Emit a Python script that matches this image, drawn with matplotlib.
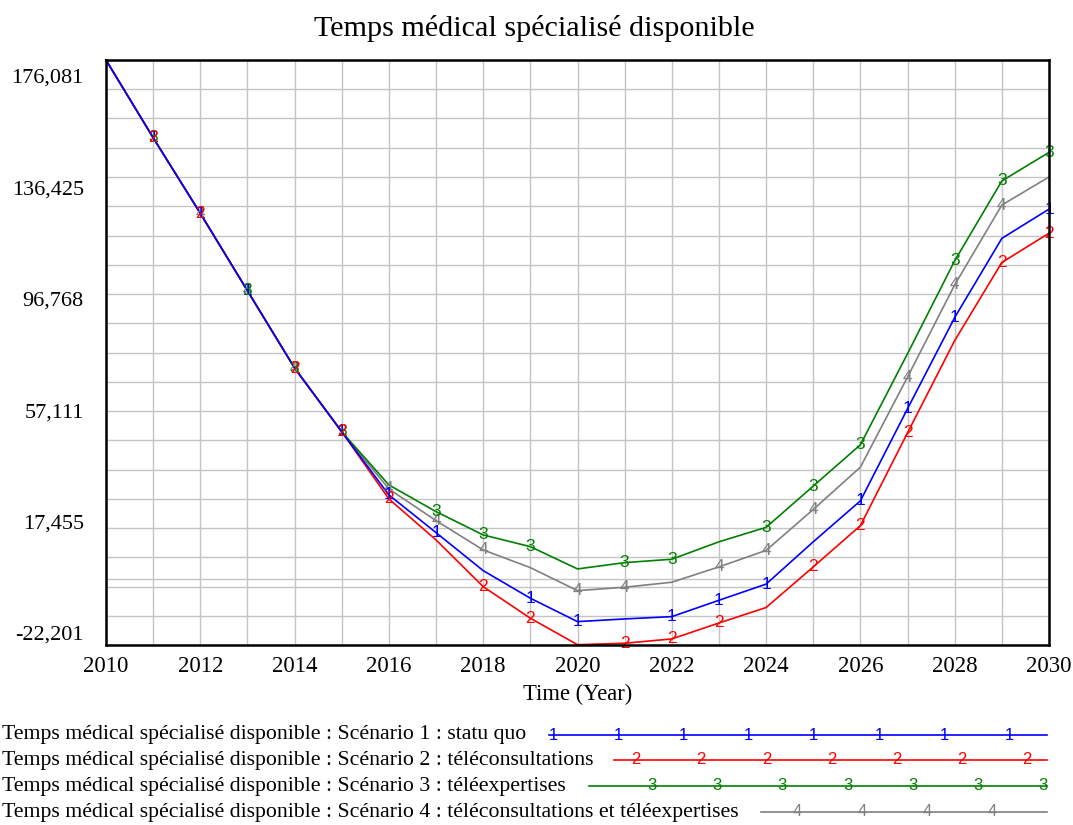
import matplotlib
matplotlib.use("Agg")
import matplotlib.pyplot as plt
from matplotlib.lines import Line2D
from matplotlib.transforms import ScaledTranslation
import numpy as np

# ---------------- data ----------------
years = list(range(2010, 2031))
s1_statu_quo = [176081, 149741, 124111, 97871, 71669, 50075, 28660, 15883, 3005, -6348,
                -14279, -13364, -12586, -7043, -1563, 12779, 26654, 57903, 88802, 115620, 125531]
s2_teleconsult = [176081, 149741, 124111, 97871, 71669, 50075, 27304, 13409, -2417, -13126,
                  -22100, -21605, -20143, -14739, -9492, 4267, 18259, 49741, 80990, 107458, 117369]
s3_teleexpert = [176081, 149741, 124111, 97871, 71669, 50075, 32048, 23000, 15103, 11138,
                 3581, 5716, 6868, 12779, 17676, 31668, 45660, 76559, 108041, 135092, 144770]
s4_both = [176081, 149741, 124111, 97871, 71669, 50075, 30693, 19950, 10020, 4021,
           -3773, -2622, -926, 4267, 9864, 23739, 38081, 68630, 99879, 126930, 136425]

series_labels = [
    "Temps médical spécialisé disponible : Scénario 1 : statu quo",
    "Temps médical spécialisé disponible : Scénario 2 : téléconsultations",
    "Temps médical spécialisé disponible : Scénario 3 : téléexpertises",
    "Temps médical spécialisé disponible : Scénario 4 : téléconsultations et téléexpertises",
]
series_ids = ["1", "2", "3", "4"]
# years at which each series carries no number label
skip_years = [
    [2010, 2014, 2018, 2021, 2025, 2029],
    [2010, 2013, 2017, 2020, 2024, 2028],
    [2010, 2012, 2016, 2020, 2023, 2027],
    [2010, 2011, 2015, 2019, 2022, 2026, 2030],
]
y_tick_values = [-22201, 17455, 57111, 96768, 136425, 176081]
x_tick_values = list(range(2010, 2031, 2))

colors = ["#0000ff", "#ff0000", "#008000", "#808080"]
all_series = [s1_statu_quo, s2_teleconsult, s3_teleexpert, s4_both]

# ---------------- figure ----------------
W, H = 1073, 825
fig = plt.figure(figsize=(W / 100, H / 100), dpi=100)
SERIF = ["Liberation Serif", "DejaVu Serif"]
SANS = ["Liberation Sans", "DejaVu Sans"]

left, right, top, bottom = 106, 1049, 60, 645
ax = fig.add_axes([left / W, 1 - bottom / H, (right - left) / W, (bottom - top) / H])

ax.set_xlim(2010, 2030)
ax.set_ylim(y_tick_values[0], y_tick_values[-1])

# grid
ystep = (y_tick_values[-1] - y_tick_values[0]) / 20.0
minor_y = [y_tick_values[0] + k * ystep for k in range(21)] + [0]
ax.set_yticks(minor_y, minor=True)
ax.set_xticks(years, minor=True)
ax.set_xticks(x_tick_values)
ax.set_xticklabels([str(v) for v in x_tick_values], family=SERIF, fontsize=16.5)
ax.set_yticks(y_tick_values)
ax.set_yticklabels([f"{v:,}" for v in y_tick_values], family=SERIF, fontsize=16)
ax.grid(True, which="both", color="#c4c4c4", lw=1.0, zorder=0)
ax.set_axisbelow(True)
ax.tick_params(which="both", length=0)
ax.tick_params(axis="x", pad=8)
ax.tick_params(axis="y", pad=16)

# shift y labels (Vensim style spacing): bottom label up, top label down
offsets = [12, 6.4, 0.8, -4.8, -10.4, -16]
for lab, dy in zip(ax.get_yticklabels(), offsets):
    lab.set_transform(lab.get_transform() + ScaledTranslation(0, dy / 100, fig.dpi_scale_trans))

for sp in ax.spines.values():
    sp.set_linewidth(1.8)
    sp.set_color("black")
    sp.set_zorder(10)

# lines (series 1 on top)
zs = [6, 5, 4, 3]
for i in range(4):
    ax.plot(years, all_series[i], color=colors[i], lw=1.2, zorder=zs[i], clip_on=False)

# number labels on the lines
mz = [7, 9, 8, 6.5]
for i in range(4):
    for yr, val in zip(years, all_series[i]):
        if yr in skip_years[i]:
            continue
        ax.text(yr, val, series_ids[i], color=colors[i], fontsize=12.5, family=SANS,
                ha="center", va="center", zorder=mz[i], clip_on=False)

ax.set_xlabel("Time (Year)", family=SERIF, fontsize=16.3, labelpad=5)
fig.text(534 / W, 1 - 28 / H, "Temps médical spécialisé disponible", family=SERIF,
         fontsize=21.7, ha="center", va="center")

# ---------------- legend ----------------
leg_y = [735, 760, 786, 812]
line_start = [549, 614, 589, 761]
first_mark = [553, 636, 652, 797]
n_marks = [8, 7, 7, 4]
mark_gap = 65.2
line_end = 1047
for i in range(4):
    yy = 1 - leg_y[i] / H
    fig.text(2 / W, yy, series_labels[i], family=SERIF, fontsize=15.7,
             ha="left", va="center")
    fig.add_artist(Line2D([line_start[i] / W, line_end / W], [yy, yy],
                          color=colors[i], lw=1.2, transform=fig.transFigure))
    for k in range(n_marks[i]):
        fig.text((first_mark[i] + k * mark_gap) / W, yy, series_ids[i], color=colors[i],
                 fontsize=12, family=SANS, ha="center", va="center")

fig.savefig("out.png", dpi=100)
